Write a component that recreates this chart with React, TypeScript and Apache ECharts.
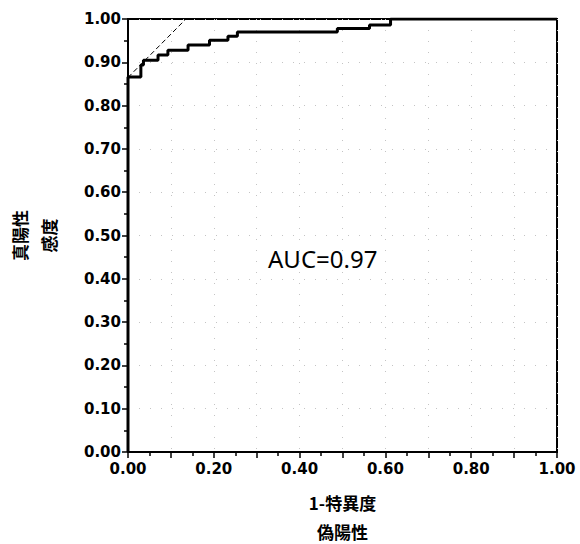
import React, { useEffect, useRef } from "react";
import * as echarts from "echarts";

// ROC curve vertices (1 - specificity, sensitivity)
const fpr = [0, 0, 0.03, 0.036, 0.07, 0.093, 0.14, 0.19, 0.233, 0.255, 0.488, 0.563, 0.612, 1];
const tpr = [0, 0.866, 0.894, 0.905, 0.917, 0.928, 0.94, 0.951, 0.96, 0.97, 0.978, 0.986, 1, 1];

// dashed tangent line
const tanX = [0, 0.135];
const tanY = [0.865, 1.0];

const xName = "1-特異度\n偽陽性";
const yName = "真陽性\n感度";
const aucLabel = "AUC=0.97";

export default function App() {
  const ref = useRef<HTMLDivElement>(null);
  useEffect(() => {
    if (!ref.current) return;
    const chart = echarts.init(ref.current, undefined, { renderer: "svg" });
    const labelFont = {
      fontFamily: "DejaVu Sans",
      fontWeight: "bold" as const,
      fontSize: 15,
      color: "#000",
    };
    const nameFont = {
      fontFamily: "Noto Sans CJK JP",
      fontWeight: "bold" as const,
      fontSize: 17,
      lineHeight: 29,
      color: "#000",
    };
    const split = {
      show: true,
      lineStyle: { color: "#c4c4c4", width: 1, type: [1, 10] as number[] },
    };
    chart.setOption({
      animation: false,
      backgroundColor: "#fff",
      grid: {
        left: 128,
        top: 19,
        right: 23,
        bottom: 92,
        show: true,
        borderColor: "#000",
        borderWidth: 2,
        containLabel: false,
        outerBoundsMode: "none",
      },
      xAxis: {
        type: "value",
        min: 0,
        max: 1,
        interval: 0.1,
        name: xName,
        nameLocation: "middle",
        nameGap: 36,
        nameTextStyle: nameFont,
        axisLine: { show: true, lineStyle: { color: "#000", width: 2 } },
        axisTick: { show: true, length: 6, lineStyle: { color: "#000", width: 1.5 } },
        minorTick: { show: true, splitNumber: 2, length: 4, lineStyle: { color: "#000", width: 1.5 } },
        axisLabel: {
          ...labelFont,
          margin: 9,
          formatter: (v: number) => (Math.round(v * 10) % 2 === 0 ? v.toFixed(2) : ""),
        },
        splitLine: split,
      },
      yAxis: {
        type: "value",
        min: 0,
        max: 1,
        interval: 0.1,
        name: yName,
        nameLocation: "middle",
        nameRotate: 90,
        nameGap: 65,
        nameTextStyle: nameFont,
        axisLine: { show: true, lineStyle: { color: "#000", width: 2 } },
        axisTick: { show: true, length: 6, lineStyle: { color: "#000", width: 1.5 } },
        minorTick: { show: true, splitNumber: 2, length: 4, lineStyle: { color: "#000", width: 1.5 } },
        axisLabel: {
          ...labelFont,
          margin: 7,
          formatter: (v: number) => v.toFixed(2),
        },
        splitLine: split,
      },
      series: [
        {
          type: "line",
          data: fpr.map((x, i) => [x, tpr[i]]),
          step: "end",
          symbol: "none",
          lineStyle: { color: "#000", width: 3 },
          z: 3,
        },
        {
          type: "line",
          data: tanX.map((x, i) => [x, tanY[i]]),
          symbol: "none",
          lineStyle: { color: "#000", width: 1, type: [5, 3] },
          z: 2,
        },
      ],
      graphic: [
        {
          type: "text",
          x: 268,
          y: 258,
          style: {
            text: aucLabel,
            fontFamily: "Noto Sans",
            fontSize: 24,
            fill: "#000",
            textVerticalAlign: "middle",
          },
        },
      ],
    });
    return () => chart.dispose();
  }, []);
  return (
    <div
      ref={ref}
      style={{ position: "fixed", left: 0, top: 0, width: 580, height: 544, background: "#fff" }}
    />
  );
}
